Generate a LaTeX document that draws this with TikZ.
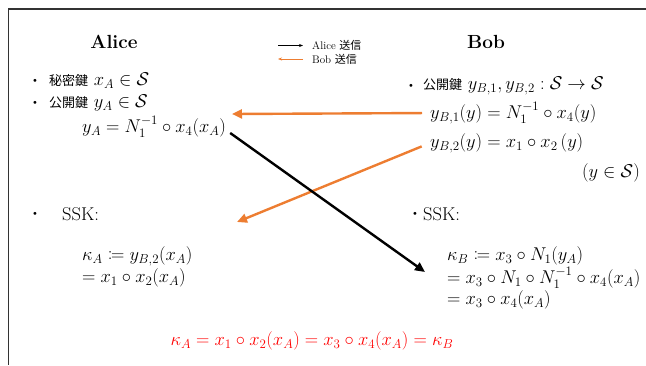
\documentclass[tikz,border=0pt]{standalone}
\usepackage{fix-cm}
\usepackage{amsmath,amssymb,mathtools}
\usepackage{fontspec}
\newfontfamily\jpfont{Noto Sans CJK JP}
\newcommand{\jp}[1]{{\jpfont #1}}
\usepackage{tikz}
\usetikzlibrary{arrows.meta, positioning, calc}
\definecolor{bobcol}{RGB}{237,125,49}

\begin{document}
\begin{tikzpicture}[x=1pt, y=-1pt,
    txt/.style={anchor=west, inner sep=0pt, font=\fontsize{18.5}{21}\selectfont},
    title/.style={inner sep=0pt, font=\fontsize{19}{22}\selectfont\bfseries},
    dot/.style={inner sep=0pt, font=\fontsize{11}{13}\selectfont},
    legend/.style={anchor=west, inner sep=0pt, font=\fontsize{11}{13}\selectfont},
    alicearrow/.style={-{Triangle[length=10pt, width=9pt]}, line width=2.4pt, black},
    bobarrow/.style={-{Triangle[length=10pt, width=9pt]}, line width=2.4pt, bobcol},
]
\useasboundingbox (0,0) rectangle (646,365);
% Frame
\draw[line width=1.3pt, black!80] (646,9) -- (8.5,9) -- (8.5,365);

% Titles
\node[title] (alice) at (114,42) {Alice};
\node[title] (bob) at (486,42) {Bob};

% Legend
\node[legend] (legA) at (312,45.5) {Alice \jp{送信}};
\node[legend] (legB) at (312,59) {Bob \jp{送信}};
\coordinate (legA0) at (278,45.5);
\coordinate (legB0) at (278,59);
\draw[-{Stealth[length=4pt, width=3pt]}, line width=0.6pt, black]
  (legA0) -- ($(legA.west)+(-9,0)$);
\draw[-{Stealth[length=4pt, width=3pt]}, line width=0.6pt, bobcol]
  ($(legB.west)+(-9,0)$) -- (legB0);

% Alice keys
\node[dot] (b1) at (35,81) {\textbullet};
\node[txt] (skA) at (49,81) {\jp{\fontsize{13}{15}\selectfont 秘密鍵} $x_A \in \mathcal{S}$};
\node[dot] (b2) at (35,103) {\textbullet};
\node[txt] (pkA) at (49,103) {\jp{\fontsize{13}{15}\selectfont 公開鍵} $y_A \in \mathcal{S}$};
\node[txt] (yA) at (82,127) {$y_A = N_1^{-1}\circ x_4(x_A)$};

% Bob keys
\node[dot] (b3) at (411,86) {\textbullet};
\node[txt] (pkB) at (423,86)
  {\jp{\fontsize{13}{15}\selectfont 公開鍵} $y_{B,1}, y_{B,2} : \mathcal{S}\to\mathcal{S}$};
\node[txt] (yB1) at (430,113) {$y_{B,1}(y) = N_1^{-1}\circ x_4(y)$};
\node[txt] (yB2) at (430,143) {$y_{B,2}(y) = x_1\circ x_2\,(y)$};
\node[txt, anchor=east] (dom) at (640,173) {$(y\in\mathcal{S})$};

% Shared secret keys
\node[dot] (b4) at (35,214) {\textbullet};
\node[txt] (sskA) at (62,214) {SSK:};
\node[txt] (kA1) at (82,256) {$\kappa_A \coloneqq y_{B,2}(x_A)$};
\node[txt] (kA2) at (82,278) {$= x_1\circ x_2(x_A)$};
\node[dot] (b5) at (415,214) {\textbullet};
\node[txt] (sskB) at (423,214) {SSK:};
\node[txt] (kB1) at (447,256) {$\kappa_B \coloneqq x_3\circ N_1(y_A)$};
\node[txt] (kB2) at (447,278) {$= x_3\circ N_1\circ N_1^{-1}\circ x_4(x_A)$};
\node[txt] (kB3) at (447,300) {$= x_3\circ x_4(x_A)$};

% Result
\node[txt, anchor=center, text=red] (res) at (312,341)
  {$\kappa_A = x_1\circ x_2(x_A) = x_3\circ x_4(x_A) = \kappa_B$};

% Messages
\coordinate (tipA1) at (232,114);
\coordinate (tipA2) at (237,222);
\coordinate (tipB) at (425,272);
\draw[bobarrow, shorten <=8pt] (yB1.west) -- (tipA1);
\draw[bobarrow, shorten <=9pt] (yB2.west) -- (tipA2);
\draw[alicearrow] ($(yA.east)+(4,6)$) -- (tipB);

\end{tikzpicture}
\end{document}
